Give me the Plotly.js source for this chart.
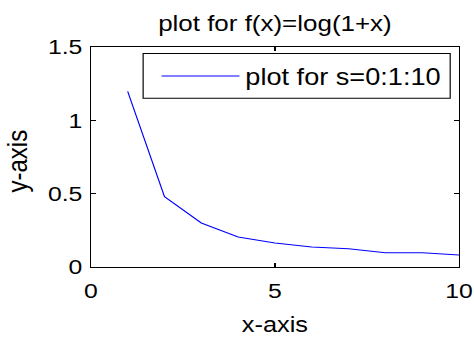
<!DOCTYPE html>
<html><head><meta charset="utf-8">
<script src="https://cdn.plot.ly/plotly-3.0.1.min.js"></script>
<style>
html,body{margin:0;padding:0;background:#fff;overflow:hidden}
#wrap{width:474px;height:337px;overflow:hidden}
#chart{width:402px;height:337px;transform:scaleX(1.18);transform-origin:0 0}
</style></head>
<body><div id="wrap"><div id="chart"></div></div>
<script>
const xValues = [1, 2, 3, 4, 5, 6, 7, 8, 9, 10];
const yValues = [1.198, 0.479, 0.300, 0.204, 0.164, 0.136, 0.125, 0.098, 0.098, 0.082];
const seriesName = 'plot for s=0:1:10';
const xTicks = [0, 5, 10];
const yTicks = [0, 0.5, 1, 1.5];
const titleText = 'plot for f(x)=log(1+x)';
const xTitle = 'x-axis';
const yTitle = 'y-axis';

const FONT = 'Liberation Sans, Arial, sans-serif';

const trace = {
  x: xValues, y: yValues, type: 'scatter', mode: 'lines', name: seriesName,
  line: {color: '#0000ff', width: 1}
};

const axisCommon = {
  showline: true, linecolor: '#000', linewidth: 1, mirror: 'ticks',
  ticks: 'inside', ticklen: 4, tickcolor: '#000', tickwidth: 1,
  showgrid: false, zeroline: false,
  tickfont: {family: FONT, size: 21, color: '#000'}
};

const layout = {
  width: 402, height: 337,
  margin: {l: 77, r: 13, t: 47, b: 70},
  paper_bgcolor: '#fff', plot_bgcolor: '#fff',
  font: {family: FONT, color: '#000'},
  title: {text: titleText, font: {family: FONT, size: 22, color: '#000'},
          x: 0.5, xref: 'paper', xanchor: 'center', y: 1 - 23/337, yref: 'container', yanchor: 'middle'},
  xaxis: Object.assign({}, axisCommon, {range: [0, 10], tickvals: xTicks, ticktext: xTicks.map(String),
          ticklabelstandoff: 5,
          title: {text: xTitle, font: {family: FONT, size: 21.5, color: '#000'}, standoff: 20}}),
  yaxis: Object.assign({}, axisCommon, {range: [0, 1.5], tickvals: yTicks, ticktext: yTicks.map(String),
          ticklabelstandoff: 2}),
  annotations: [{text: yTitle, textangle: -90, xref: 'paper', yref: 'paper',
                 x: -0.2468, xanchor: 'left', y: 0.482, yanchor: 'middle', showarrow: false,
                 borderpad: 0,
                 font: {family: FONT, size: 24, color: '#000'}}],
  showlegend: true,
  legend: {x: 0.176, xanchor: 'left', y: 0.966, yanchor: 'top',
           borderwidth: 0, bgcolor: '#fff',
           itemwidth: 66,
           font: {family: FONT, size: 23, color: '#000'}},
  shapes: [{type: 'rect', xref: 'paper', yref: 'paper', x0: 0.142, x1: 0.976, y0: 0.767, y1: 0.971,
            line: {color: '#000', width: 1}, fillcolor: 'rgba(0,0,0,0)', layer: 'above'}]
};

Plotly.newPlot('chart', [trace], layout, {displayModeBar: false, staticPlot: true});
</script>
</body></html>
